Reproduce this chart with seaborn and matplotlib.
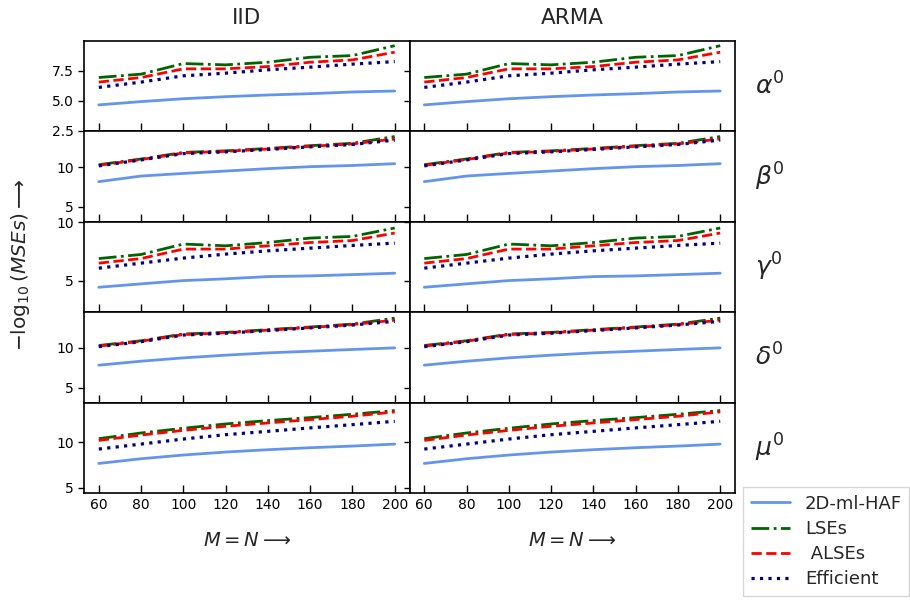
import matplotlib
matplotlib.use("Agg")
import matplotlib.pyplot as plt
import seaborn as sns

# sample sizes M = N
M = [60, 80, 100, 120, 140, 160, 180, 200]

# -log10(MSE), one list per method and parameter
haf_alpha = [4.65, 4.92, 5.16, 5.33, 5.47, 5.58, 5.72, 5.80]
lse_alpha = [6.92, 7.20, 8.08, 7.97, 8.19, 8.60, 8.74, 9.56]
alse_alpha = [6.54, 6.92, 7.64, 7.64, 7.83, 8.19, 8.38, 9.02]
eff_alpha = [6.10, 6.54, 7.06, 7.28, 7.56, 7.78, 8.03, 8.24]

haf_beta = [8.16, 8.87, 9.20, 9.50, 9.80, 10.05, 10.20, 10.43]
lse_beta = [10.30, 11.02, 11.85, 12.05, 12.35, 12.70, 13.00, 13.85]
alse_beta = [10.22, 10.95, 11.78, 11.98, 12.28, 12.62, 12.92, 13.55]
eff_beta = [10.15, 10.90, 11.70, 11.92, 12.22, 12.55, 12.85, 13.40]

haf_gamma = [4.43, 4.72, 5.00, 5.15, 5.34, 5.40, 5.51, 5.63]
lse_gamma = [6.88, 7.23, 8.12, 7.97, 8.25, 8.63, 8.77, 9.49]
alse_gamma = [6.49, 6.88, 7.69, 7.69, 7.97, 8.25, 8.42, 9.06]
eff_gamma = [6.06, 6.49, 6.92, 7.26, 7.54, 7.77, 8.00, 8.20]

haf_delta = [7.82, 8.32, 8.74, 9.08, 9.37, 9.58, 9.80, 10.00]
lse_delta = [10.30, 10.90, 11.75, 11.95, 12.30, 12.63, 13.00, 13.75]
alse_delta = [10.22, 10.84, 11.68, 11.90, 12.24, 12.57, 12.94, 13.50]
eff_delta = [10.15, 10.78, 11.62, 11.85, 12.18, 12.52, 12.88, 13.35]

haf_mu = [7.67, 8.19, 8.60, 8.93, 9.19, 9.41, 9.59, 9.81]
lse_mu = [10.41, 11.04, 11.56, 12.04, 12.41, 12.74, 13.11, 13.52]
alse_mu = [10.22, 10.81, 11.33, 11.78, 12.15, 12.52, 12.89, 13.37]
eff_mu = [9.26, 9.81, 10.37, 10.85, 11.22, 11.60, 11.96, 12.33]

noise_types = ["IID", "ARMA"]
row_labels = [r"$\alpha^0$", r"$\beta^0$", r"$\gamma^0$", r"$\delta^0$", r"$\mu^0$"]
method_names = ["2D-ml-HAF", "LSEs", " ALSEs", "Efficient"]

rows = [
    [haf_alpha, lse_alpha, alse_alpha, eff_alpha],
    [haf_beta, lse_beta, alse_beta, eff_beta],
    [haf_gamma, lse_gamma, alse_gamma, eff_gamma],
    [haf_delta, lse_delta, alse_delta, eff_delta],
    [haf_mu, lse_mu, alse_mu, eff_mu],
]

# axis ranges per row
ylims = [(2.45, 9.95), (3.1, 14.5), (2.3, 10.02), (3.1, 14.5), (4.4, 14.4)]
yticks = [[2.5, 5.0, 7.5], [5, 10], [5, 10], [5, 10], [5, 10]]
ytick_labels = [["2.5", "5.0", "7.5"], ["5", "10"], ["5", "10"], ["5", "10"], ["5", "10"]]

colors = ["cornflowerblue", "darkgreen", "red", "navy"]
styles = ["-", "-.", "--", ":"]
widths = [2.0, 2.0, 2.0, 2.3]

sns.set_style("ticks")
plt.rcParams["font.family"] = ["DejaVu Sans"]
plt.rcParams["axes.edgecolor"] = "black"
plt.rcParams["xtick.color"] = "black"
plt.rcParams["ytick.color"] = "black"

fig, axes = plt.subplots(5, 2, figsize=(9.1, 6.01), dpi=100, sharex=True, sharey="row")
fig.subplots_adjust(left=0.0923, right=0.8077, top=0.9318, bottom=0.1797,
                    hspace=0, wspace=0)

for r in range(5):
    for c in range(2):
        ax = axes[r, c]
        for k in range(4):
            sns.lineplot(x=M, y=rows[r][k], ax=ax, color=colors[k],
                         linestyle=styles[k], linewidth=widths[k],
                         label=method_names[k] if (r == 0 and c == 0) else None,
                         legend=False)
        ax.set_ylim(*ylims[r])
        ax.set_yticks(yticks[r])
        ax.set_yticklabels(ytick_labels[r])
        ax.set_xticks(M)
        ax.tick_params(axis="x", direction="in", length=6, width=1, labelsize=10)
        ax.tick_params(axis="y", direction="out", length=4, width=1, labelsize=10)
        for sp in ax.spines.values():
            sp.set_visible(True)
            sp.set_linewidth(1.2)
        if r == 0:
            ax.set_title(noise_types[c], fontsize=15.5, pad=12)
        if r == 4:
            ax.set_xlabel(r"$M=N\longrightarrow$", fontsize=14, labelpad=14)
    axes[r, 1].text(1.06, 0.5, row_labels[r], transform=axes[r, 1].transAxes,
                    fontsize=18, va="center", ha="left")

axes[0, 0].set_xlim(53, 207)

fig.text(0.022, 0.56, r"$-\log_{10}(MSEs)\longrightarrow$", rotation=90,
         fontsize=14.5, va="center", ha="center")

handles, labels = axes[0, 0].get_legend_handles_labels()
fig.legend(handles, labels, loc="lower right", bbox_to_anchor=(1.005, 0.0),
           fontsize=13, handlelength=2.2, labelspacing=0.4, frameon=True,
           fancybox=False, edgecolor="0.8", borderaxespad=0.3)

fig.savefig("out.png", dpi=100)
